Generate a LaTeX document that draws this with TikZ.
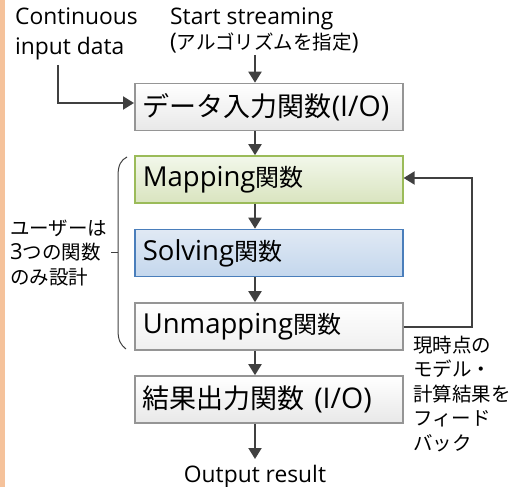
\documentclass[tikz,border=0pt]{standalone}
\usepackage{fontspec}
\setmainfont{Open Sans}
\newfontfamily\jp{Noto Sans CJK JP}
\usetikzlibrary{arrows.meta}

\definecolor{ink}{HTML}{404040}
\definecolor{boxgray}{HTML}{959595}
\definecolor{boxgreen}{HTML}{9BBB59}
\definecolor{boxblue}{HTML}{4A7EBB}
\definecolor{stripe}{HTML}{F5C29B}

% Japanese text at the three sizes used
\newcommand\jl[1]{{\jp\fontsize{19.5}{24.5}\selectfont #1}}
\newcommand\jm[1]{{\jp\fontsize{24}{28}\selectfont #1}}
\newcommand\jb[1]{{\jp\fontsize{27}{30}\selectfont #1}}

\tikzset{
  label/.style={inner sep=0pt, font=\fontsize{22.8}{24.5}\selectfont, text=black},
  sidetext/.style={inner sep=0pt, align=left, font=\jp\fontsize{19.5}{24.5}\selectfont},
  funcbox/.style={draw=boxgray, line width=1.6pt, rectangle, anchor=west,
    minimum height=47pt, text width=252pt, inner xsep=8pt, inner ysep=0pt, align=left},
  bigfont/.style={font=\fontsize{28.5}{30}\selectfont},
  midfont/.style={font=\fontsize{27.5}{30}\selectfont},
  arr/.style={draw=ink, line width=2pt, -{Triangle[width=13pt,length=11pt]}},
  bracket/.style={draw=ink, line width=1pt},
}

\begin{document}
\begin{tikzpicture}[x=1pt, y=-1pt]
  \useasboundingbox (0,0) rectangle (514,487);
  \fill[stripe] (0,0) rectangle (5,487);

  % input labels
  \node[label, anchor=base west] (cin1) at (15,25) {Continuous};
  \node[label, anchor=base west] (cin2) at (15,55) {input data};
  \node[label, anchor=base west] (st1) at (170,25) {Start streaming};
  \node[label, anchor=base west] (st2) at (170,49) {(\jl{アルゴリズムを指定})};

  % processing chain
  \node[funcbox, bigfont, top color=white, bottom color=black!9] (data) at (134,107)
    {\jb{データ入力関数}(I/O)};
  \node[funcbox, midfont, draw=boxgreen, top color=green!25!olive!8!white, bottom color={rgb,255:red,217;green,228;blue,191}] (map) at (134,179.5)
    {Mapping\jm{関数}};
  \node[funcbox, midfont, draw=boxblue, top color={rgb,255:red,224;green,233;blue,244}, bottom color={rgb,255:red,196;green,215;blue,237}] (solve) at (134,253)
    {Solving\jm{関数}};
  \node[funcbox, midfont, top color=white, bottom color=black!6] (unmap) at (134,326.5)
    {Unmapping\jm{関数}};
  \node[funcbox, bigfont, top color=white, bottom color=black!9] (result) at (134,399.5)
    {\jb{結果出力関数} (I/O)};

  \node[label, anchor=base] (out) at (255,482) {Output result};

  % side notes
  \node[sidetext, anchor=west] (user) at (10,253)
    {ユーザーは\\{\rmfamily\fontsize{22}{24.5}\selectfont 3}つの関数\\のみ設計};
  \node[sidetext, anchor=west] (fbnote) at (413,394)
    {現時点の\\モデル・\\計算結果を\\フィード\\バック};

  % connectors
  \coordinate (stin) at (255,55);
  \coordinate (cinend) at (58,65);
  \coordinate (fbx) at (472,326.5);
  \coordinate (outtip) at (255,459);

  \draw[arr] (stin) -- (stin |- data.north);
  \draw[arr] (cinend) |- ([yshift=4pt]data.west);
  \draw[arr] (data.south -| stin) -- (map.north -| stin);
  \draw[arr] (map.south -| stin) -- (solve.north -| stin);
  \draw[arr] (solve.south -| stin) -- (unmap.north -| stin);
  \draw[arr] (unmap.south -| stin) -- (result.north -| stin);
  \draw[arr] (result.south -| stin) -- (outtip);
  \draw[arr] (unmap.east) -- (fbx) |- ([yshift=1.5pt]map.east);

  % bracket grouping the user-defined functions
  \draw[bracket] (127,157) .. controls (121,160) and (118,165) .. (118,176)
    -- (118,330) .. controls (118,341) and (121,345) .. (126,349);
  \draw[bracket] (118,252) -- (111,252);
\end{tikzpicture}
\end{document}
